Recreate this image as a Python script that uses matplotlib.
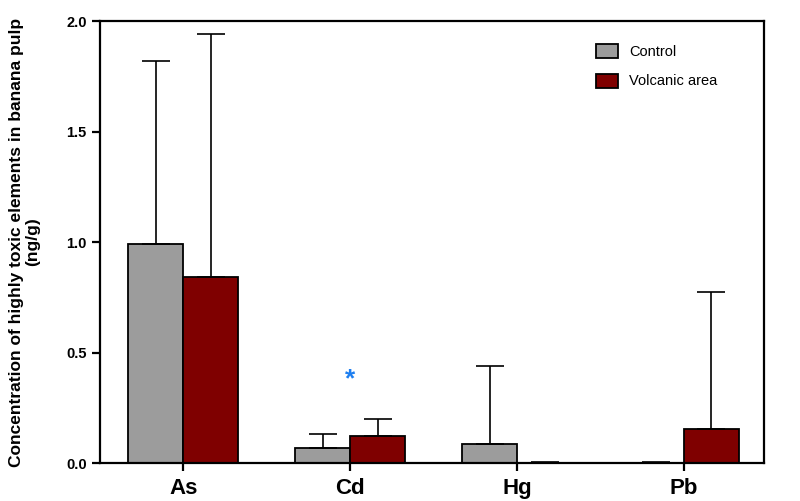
import numpy as np
import matplotlib.pyplot as plt

plt.rcParams['font.family'] = ['Liberation Sans', 'DejaVu Sans']

# -------- Data --------
elements = ['As', 'Cd', 'Hg', 'Pb']
control_mean = [0.99, 0.07, 0.085, 0.0]
control_err = [0.83, 0.06, 0.355, 0.006]
volcanic_mean = [0.84, 0.122, 0.0, 0.155]
volcanic_err = [1.10, 0.078, 0.006, 0.62]
star_pos = ('Cd', 0.38)

# -------- Plot --------
fig = plt.figure(figsize=(8, 5.01), dpi=100)
ax = fig.add_axes([0.125, 0.0758, 0.83, 0.882])

x = np.arange(len(elements))
w = 0.33

err_kw = dict(elinewidth=1.2, capthick=1.2, ecolor='black')
ax.bar(x - w / 2, control_mean, w, color='#9c9c9c', edgecolor='black',
       linewidth=1.3, label='Control',
       yerr=[np.zeros(len(x)), control_err], capsize=10, error_kw=err_kw)
ax.bar(x + w / 2, volcanic_mean, w, color='#7f0000', edgecolor='black',
       linewidth=1.3, label='Volcanic area',
       yerr=[np.zeros(len(x)), volcanic_err], capsize=10, error_kw=err_kw)

# significance marker
ax.text(elements.index(star_pos[0]), star_pos[1], '*', color='#1e7ff0',
        fontsize=19, fontweight='bold', ha='center', va='center')

ax.set_xlim(-0.5, 3.48)
ax.set_ylim(0, 2.0)
ax.set_yticks([0, 0.5, 1.0, 1.5, 2.0])
ax.set_yticklabels(['0.0', '0.5', '1.0', '1.5', '2.0'], fontweight='bold', fontsize=10.5)
ax.set_xticks(x)
ax.set_xticklabels(elements, fontweight='bold', fontsize=16)

for s in ax.spines.values():
    s.set_linewidth(1.6)
ax.tick_params(axis='both', width=1.6, length=6, direction='out')
ax.tick_params(axis='x', pad=5)

ax.set_ylabel('Concentration of highly toxic elements in banana pulp\n(ng/g)',
              fontweight='bold', fontsize=12.5, labelpad=19, linespacing=1.1)

ax.legend(loc='upper right', bbox_to_anchor=(0.95, 0.978), frameon=False,
          fontsize=10.5, handlelength=1.5, handleheight=1.1,
          labelspacing=1.0, handletextpad=0.8)

plt.savefig('out.png', dpi=100)
